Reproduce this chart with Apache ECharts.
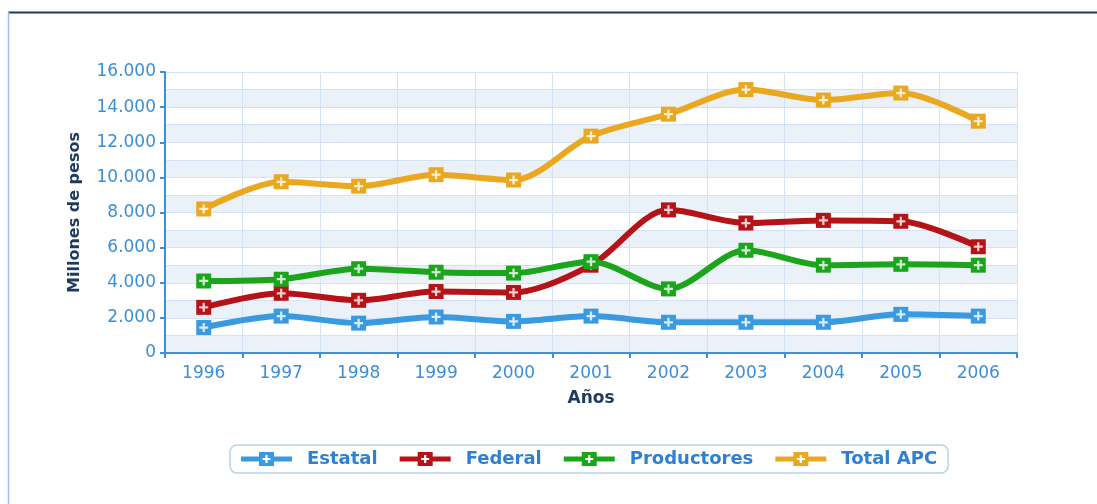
<!DOCTYPE html>
<html>
<head>
<meta charset="utf-8">
<script src="https://cdn.jsdelivr.net/npm/echarts@6/dist/echarts.min.js"></script>
<style>
  html, body { margin: 0; padding: 0; background: #fff; }
  #chart { width: 1097px; height: 504px; }
</style>
</head>
<body>
<div id="chart"></div>
<script>
var years = ['1996', '1997', '1998', '1999', '2000', '2001', '2002', '2003', '2004', '2005', '2006'];
var estatal = [1450, 2100, 1700, 2050, 1800, 2100, 1750, 1750, 1750, 2200, 2100];
var federal = [2600, 3400, 3000, 3500, 3450, 5000, 8150, 7400, 7550, 7500, 6050];
var productores = [4100, 4200, 4800, 4600, 4550, 5200, 3650, 5850, 5000, 5050, 5000];
var totalApc = [8200, 9750, 9500, 10150, 9850, 12350, 13600, 15000, 14400, 14800, 13200];

var seriesNames = ['Estatal', 'Federal', 'Productores', 'Total APC'];
var seriesColors = ['#3a9ae0', '#b51318', '#1aa51a', '#e9a81f'];
var seriesData = [estatal, federal, productores, totalApc];

// white plus drawn on top of the square markers
var plusPath = 'path://M3,0L5,0L5,3L8,3L8,5L5,5L5,8L3,8L3,5L0,5L0,3L3,3Z';
// legend icon: bar - square with plus hole - bar
var legendIcon = 'path://M0,4.5L19,4.5L19,9.5L0,9.5Z' +
    'M18,0L33,0L33,14L18,14Z' +
    'M24.4,3L24.4,5.9L21.5,5.9L21.5,8.1L24.4,8.1L24.4,11L26.6,11L26.6,8.1L29.5,8.1L29.5,5.9L26.6,5.9L26.6,3Z' +
    'M32,4.5L51,4.5L51,9.5L32,9.5Z';

var font = 'DejaVu Sans';

function fmtThousands(v) {
    return String(v).replace(/\B(?=(\d{3})+(?!\d))/g, '.');
}

var lineSeries = seriesNames.map(function (name, i) {
    return {
        name: name,
        type: 'line',
        data: seriesData[i],
        smooth: 0.3,
        symbol: 'rect',
        symbolSize: 15,
        color: seriesColors[i],
        lineStyle: { width: 6, color: seriesColors[i] },
        itemStyle: { color: seriesColors[i] },
        z: 2 + i * 2
    };
});

var plusSeries = seriesNames.map(function (name, i) {
    return {
        name: name + '_plus',
        type: 'scatter',
        data: seriesData[i],
        symbol: plusPath,
        symbolSize: 9,
        itemStyle: { color: '#ffffff' },
        silent: true,
        z: 3 + i * 2
    };
});

var chart = echarts.init(document.getElementById('chart'));

var option = {
    animation: false,
    textStyle: { fontFamily: font },
    graphic: [
        { type: 'line', shape: { x1: 8, y1: 12.5, x2: 1097, y2: 12.5 }, style: { stroke: '#1e3c5a', lineWidth: 2 } },
        { type: 'line', shape: { x1: 8.5, y1: 12, x2: 8.5, y2: 504 }, style: { stroke: '#9ec1e6', lineWidth: 1.5 } }
    ],
    grid: { left: 165, right: 80, top: 72, bottom: 151 },
    legend: {
        left: 230,
        top: 445,
        data: seriesNames.map(function (n) { return { name: n, icon: legendIcon }; }),
        itemWidth: 51,
        itemHeight: 14,
        itemGap: 22,
        padding: [5, 11],
        borderColor: '#b9d1ec',
        borderWidth: 1.5,
        borderRadius: 7,
        textStyle: { color: '#2f80d0', fontSize: 18, fontWeight: 'bold', fontFamily: font, padding: [0, 0, 0, 10] }
    },
    xAxis: {
        type: 'category',
        data: years,
        boundaryGap: true,
        name: 'Años',
        nameLocation: 'middle',
        nameGap: 37,
        nameTextStyle: { color: '#1f3a5f', fontSize: 17, fontWeight: 'bold', fontFamily: font },
        axisLine: { lineStyle: { color: '#3d8fd9', width: 2 } },
        axisTick: { show: true, length: 5, lineStyle: { color: '#3d8fd9', width: 2 } },
        axisLabel: { color: '#3a8fd8', fontSize: 17, margin: 12, fontFamily: font },
        splitLine: { show: true, lineStyle: { color: '#d3e3f5', width: 1 } }
    },
    yAxis: [
        {
            type: 'value',
            min: 0,
            max: 16000,
            interval: 2000,
            name: 'Millones de pesos',
            nameLocation: 'middle',
            nameGap: 82,
            nameRotate: 90,
            nameTextStyle: { color: '#1f3a5f', fontSize: 16, fontWeight: 'bold', fontFamily: font },
            axisLine: { show: true, lineStyle: { color: '#3d8fd9', width: 2 } },
            axisTick: { show: true, length: 5, lineStyle: { color: '#3d8fd9', width: 2 } },
            axisLabel: { color: '#3a8fd8', fontSize: 17, margin: 9, fontFamily: font, formatter: fmtThousands },
            splitLine: { show: false }
        },
        {
            // only draws the 1000-step grid lines and bands
            type: 'value',
            min: 0,
            max: 16000,
            interval: 1000,
            axisLine: { show: false },
            axisTick: { show: false },
            axisLabel: { show: false },
            splitLine: { show: true, lineStyle: { color: '#d3e3f5', width: 1 } },
            splitArea: { show: true, areaStyle: { color: ['#ebf1f9', '#ffffff'] } }
        }
    ],
    series: lineSeries.concat(plusSeries)
};

chart.setOption(option);
</script>
</body>
</html>
